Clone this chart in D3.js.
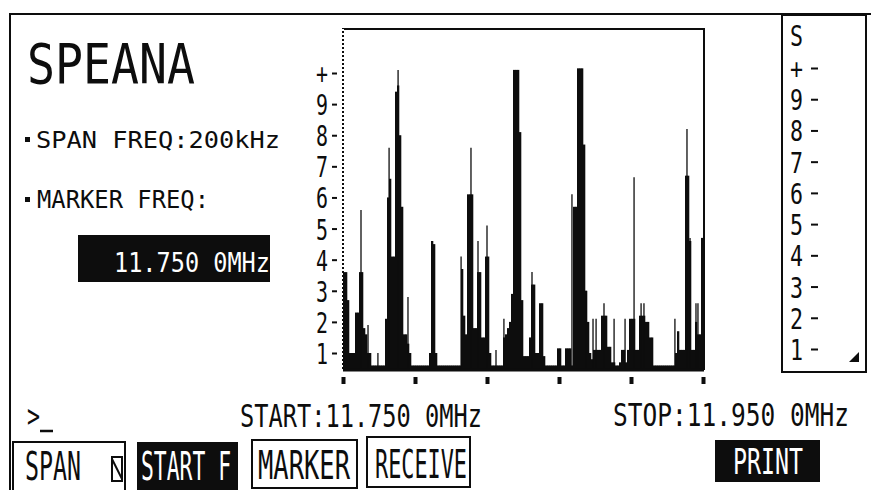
<!DOCTYPE html>
<html>
<head>
<meta charset="utf-8">
<script src="https://cdn.jsdelivr.net/npm/d3@7"></script>
<style>
  body { margin: 0; background: #fff; }
  svg { display: block; }
  text { font-family: "DejaVu Sans Mono", monospace; }
</style>
</head>
<body>
<svg id="chart" width="871" height="490"></svg>
<script>
// spectrum: 180 bins across the 200 kHz span, level in screen divisions
const spanKHz = 200;
const binLevels = [
  3.6, 3.6, 2.7, 1.0, 1.0, 1.0, 2.3, 2.3, 3.6, 3.6,
  1.8, 1.6, 1.0, 1.0, 0.6, 0.6, 0.6, 0.6, 0.6, 0.6,
  0.6, 2.1, 6.0, 6.6, 4.1, 4.1, 9.4, 9.6, 8.0, 5.7,
  1.6, 1.6, 1.3, 1.0, 0.6, 0.6, 0.6, 0.6, 0.6, 0.6,
  0.6, 0.6, 0.6, 1.0, 4.6, 4.5, 1.0, 0.6, 0.6, 0.6,
  0.6, 0.6, 0.6, 0.6, 0.6, 0.6, 0.6, 0.6, 0.6, 3.7,
  2.2, 1.6, 6.1, 6.1, 6.1, 1.8, 1.8, 3.6, 3.6, 1.5,
  1.5, 4.1, 4.1, 1.0, 0.6, 0.6, 0.6, 0.6, 0.6, 0.6,
  1.5, 1.6, 1.8, 2.0, 2.9, 10.1, 10.1, 10.1, 8.1, 2.7,
  0.9, 0.9, 0.9, 1.5, 3.2, 3.2, 1.0, 1.0, 2.6, 2.6,
  0.9, 0.6, 0.6, 0.6, 0.6, 0.6, 0.6, 1.15, 1.15, 0.6,
  0.6, 1.15, 1.15, 1.15, 0.6, 5.7, 5.7, 10.15, 10.15, 10.15,
  7.7, 3.0, 2.0, 1.0, 0.8, 1.1, 1.1, 1.1, 1.1, 2.2,
  2.2, 2.2, 1.2, 1.2, 0.7, 0.7, 0.6, 0.6, 0.7, 1.1,
  1.1, 0.7, 1.1, 2.1, 2.1, 2.1, 1.1, 1.1, 2.2, 2.2,
  2.2, 2.0, 2.0, 1.5, 1.5, 0.6, 0.6, 0.6, 0.6, 0.6,
  0.6, 0.6, 0.6, 0.6, 0.6, 0.6, 1.0, 1.7, 1.1, 1.1,
  1.1, 6.7, 6.7, 4.6, 1.1, 1.1, 2.0, 1.6, 1.6, 4.7
];

// thin single-line spurs (offset from start in kHz, level)
const spurKHz = [10.0, 13.9, 19.4, 25.6, 30.6, 36.1, 65.6, 71.1, 75.0, 80.0, 85.0, 89.4, 105.0, 127.2,
  135.0, 138.9, 140.6, 145.0, 150.6, 156.7, 161.7, 165.6, 167.2, 184.4, 191.1, 192.8, 196.1, 197.2];
const spurLevels = [5.6, 1.9, 1.0, 7.6, 10.1, 2.8, 4.1, 7.6, 4.6, 5.1, 1.1, 2.1, 3.6, 6.1,
  3.0, 2.1, 2.1, 2.6, 2.1, 2.1, 6.65, 2.6, 2.6, 2.1, 8.2, 4.7, 2.6, 2.6];

const levelTicks = [1, 2, 3, 4, 5, 6, 7, 8, 9, 10];
const levelLabels = ["1", "2", "3", "4", "5", "6", "7", "8", "9", "+"];
const freqTicks = [0, 40, 80, 120, 160, 200];

const ink = "#0d0d0d";
const CAP = 0.729, ADV = 0.602; // DejaVu Sans Mono metrics
const svg = d3.select("#chart");

// frame of the screen
svg.append("line").attr("x1", 9).attr("y1", 14).attr("x2", 871).attr("y2", 14)
  .attr("stroke", ink).attr("stroke-width", 2);
svg.append("line").attr("x1", 10).attr("y1", 14).attr("x2", 10).attr("y2", 490)
  .attr("stroke", ink).attr("stroke-width", 2);

// tall narrow LCD-like text: width sets font size, height is a vertical stretch
function label(txt, x, base, cap, width, fill) {
  const fs = width / (ADV * txt.length);
  const sy = cap / (CAP * fs);
  return svg.append("text")
    .attr("transform", `translate(${x},${base}) scale(1,${sy.toFixed(3)})`)
    .attr("font-size", fs.toFixed(2))
    .attr("fill", fill || ink)
    .text(txt);
}

// left panel
label("SPEANA", 27, 83, 40, 168);
svg.append("rect").attr("x", 25).attr("y", 137).attr("width", 5).attr("height", 5).attr("fill", ink);
label("SPAN FREQ:200kHz", 36, 148, 17, 244);
svg.append("rect").attr("x", 25).attr("y", 197).attr("width", 5).attr("height", 5).attr("fill", ink);
label("MARKER FREQ:", 37, 208, 18, 172);
svg.append("rect").attr("x", 78).attr("y", 235).attr("width", 192).attr("height", 47).attr("fill", ink);
label("11.750 0MHz", 114, 272, 20, 156, "#fff");

// plot area
const plot = { left: 343, right: 704, top: 29, bottom: 370 };
const x = d3.scaleLinear().domain([0, spanKHz]).range([plot.left, plot.right - 1]);
const y = d3.scaleLinear().domain([1, 10]).range([353, 73]);
const binW = spanKHz / binLevels.length;

svg.append("path")
  .attr("d", `M${plot.left},${plot.bottom} V${plot.top} H${plot.right} V${plot.bottom}`)
  .attr("fill", "none").attr("stroke", ink).attr("stroke-width", 2);
svg.append("line").attr("x1", plot.left).attr("y1", plot.top).attr("x2", plot.left).attr("y2", plot.bottom)
  .attr("stroke", "#fff").attr("stroke-width", 2).attr("stroke-dasharray", "2,2");

svg.append("g").selectAll("rect")
  .data(binLevels)
  .join("rect")
  .attr("x", (d, i) => x(i * binW))
  .attr("width", (d, i) => x((i + 1) * binW) - x(i * binW) + 0.3)
  .attr("y", d => y(d))
  .attr("height", d => plot.bottom - y(d))
  .attr("fill", ink);

svg.append("g").selectAll("line")
  .data(spurKHz)
  .join("line")
  .attr("x1", d => x(d)).attr("x2", d => x(d))
  .attr("y1", plot.bottom)
  .attr("y2", (d, i) => y(spurLevels[i]))
  .attr("stroke", ink).attr("stroke-width", 1.3);

svg.append("line").attr("x1", plot.left).attr("y1", plot.bottom).attr("x2", plot.right).attr("y2", plot.bottom)
  .attr("stroke", ink).attr("stroke-width", 3);

// level ticks, labels stretched tall like the screen font
function styleLevelAxis(g, w, cap) {
  g.select(".domain").remove();
  g.selectAll(".tick line").attr("stroke", ink).attr("stroke-width", 2);
  const fs = w / ADV;
  const sy = cap / (CAP * fs);
  g.selectAll(".tick text")
    .attr("font-size", fs.toFixed(2)).attr("fill", ink)
    .attr("font-family", "DejaVu Sans Mono")
    .attr("dy", null)
    .attr("y", (cap / 2 / sy).toFixed(2))
    .attr("transform", `scale(1,${sy.toFixed(3)})`);
}

const yAxis = svg.append("g")
  .attr("transform", "translate(337,0)")
  .call(d3.axisLeft(y).tickValues(levelTicks).tickSize(5).tickPadding(4)
    .tickFormat((d, i) => levelLabels[i]));
styleLevelAxis(yAxis, 12, 21);

// frequency ticks (small blocks under the trace)
const xAxis = svg.append("g")
  .attr("transform", `translate(0,${plot.bottom + 7})`)
  .call(d3.axisBottom(x).tickValues(freqTicks).tickSize(0).tickFormat(""));
xAxis.select(".domain").remove();
xAxis.selectAll(".tick").append("rect")
  .attr("x", -2).attr("y", 0).attr("width", 4).attr("height", 7).attr("fill", ink);

// right level panel
const py = d3.scaleLinear().domain([1, 10]).range([349, 68]);
svg.append("rect").attr("x", 782).attr("y", 15).attr("width", 84).attr("height", 357)
  .attr("fill", "none").attr("stroke", ink).attr("stroke-width", 2);
label("S", 790, 46, 21, 13);
const pAxis = svg.append("g")
  .attr("transform", "translate(818,0)")
  .call(d3.axisLeft(py).tickValues(levelTicks).tickSize(7).tickPadding(8)
    .tickFormat((d, i) => levelLabels[i]));
styleLevelAxis(pAxis, 13, 21);
svg.append("path").attr("d", "M849,362 L859,352 L859,362 Z").attr("fill", ink);

// bottom status line
label(">", 27, 427, 23, 13);
svg.append("line").attr("x1", 40).attr("y1", 431).attr("x2", 53).attr("y2", 431)
  .attr("stroke", ink).attr("stroke-width", 2.5);
label("START:11.750 0MHz", 240, 427, 23, 242);
label("STOP:11.950 0MHz", 613, 426, 23, 236);

// soft keys
svg.append("rect").attr("x", 13).attr("y", 442).attr("width", 112).attr("height", 50)
  .attr("fill", "none").attr("stroke", ink).attr("stroke-width", 2);
label("SPAN", 25, 480, 28, 56);
svg.append("rect").attr("x", 112).attr("y", 457).attr("width", 10).attr("height", 24)
  .attr("fill", "none").attr("stroke", ink).attr("stroke-width", 2);
svg.append("line").attr("x1", 112).attr("y1", 459).attr("x2", 122).attr("y2", 479)
  .attr("stroke", ink).attr("stroke-width", 2);
svg.append("rect").attr("x", 137).attr("y", 442).attr("width", 101).attr("height", 50).attr("fill", ink);
label("START F", 141, 480, 28, 90, "#fff");
svg.append("rect").attr("x", 252).attr("y", 440).attr("width", 105).attr("height", 48)
  .attr("fill", "none").attr("stroke", ink).attr("stroke-width", 2);
label("MARKER", 258, 479, 28, 92);
svg.append("rect").attr("x", 367).attr("y", 437).attr("width", 103).attr("height", 50)
  .attr("fill", "none").attr("stroke", ink).attr("stroke-width", 2);
label("RECEIVE", 375, 478, 28, 92);
svg.append("rect").attr("x", 715).attr("y", 440).attr("width", 105).attr("height", 42).attr("fill", ink);
label("PRINT", 733, 474, 26, 70, "#fff");
</script>
</body>
</html>
